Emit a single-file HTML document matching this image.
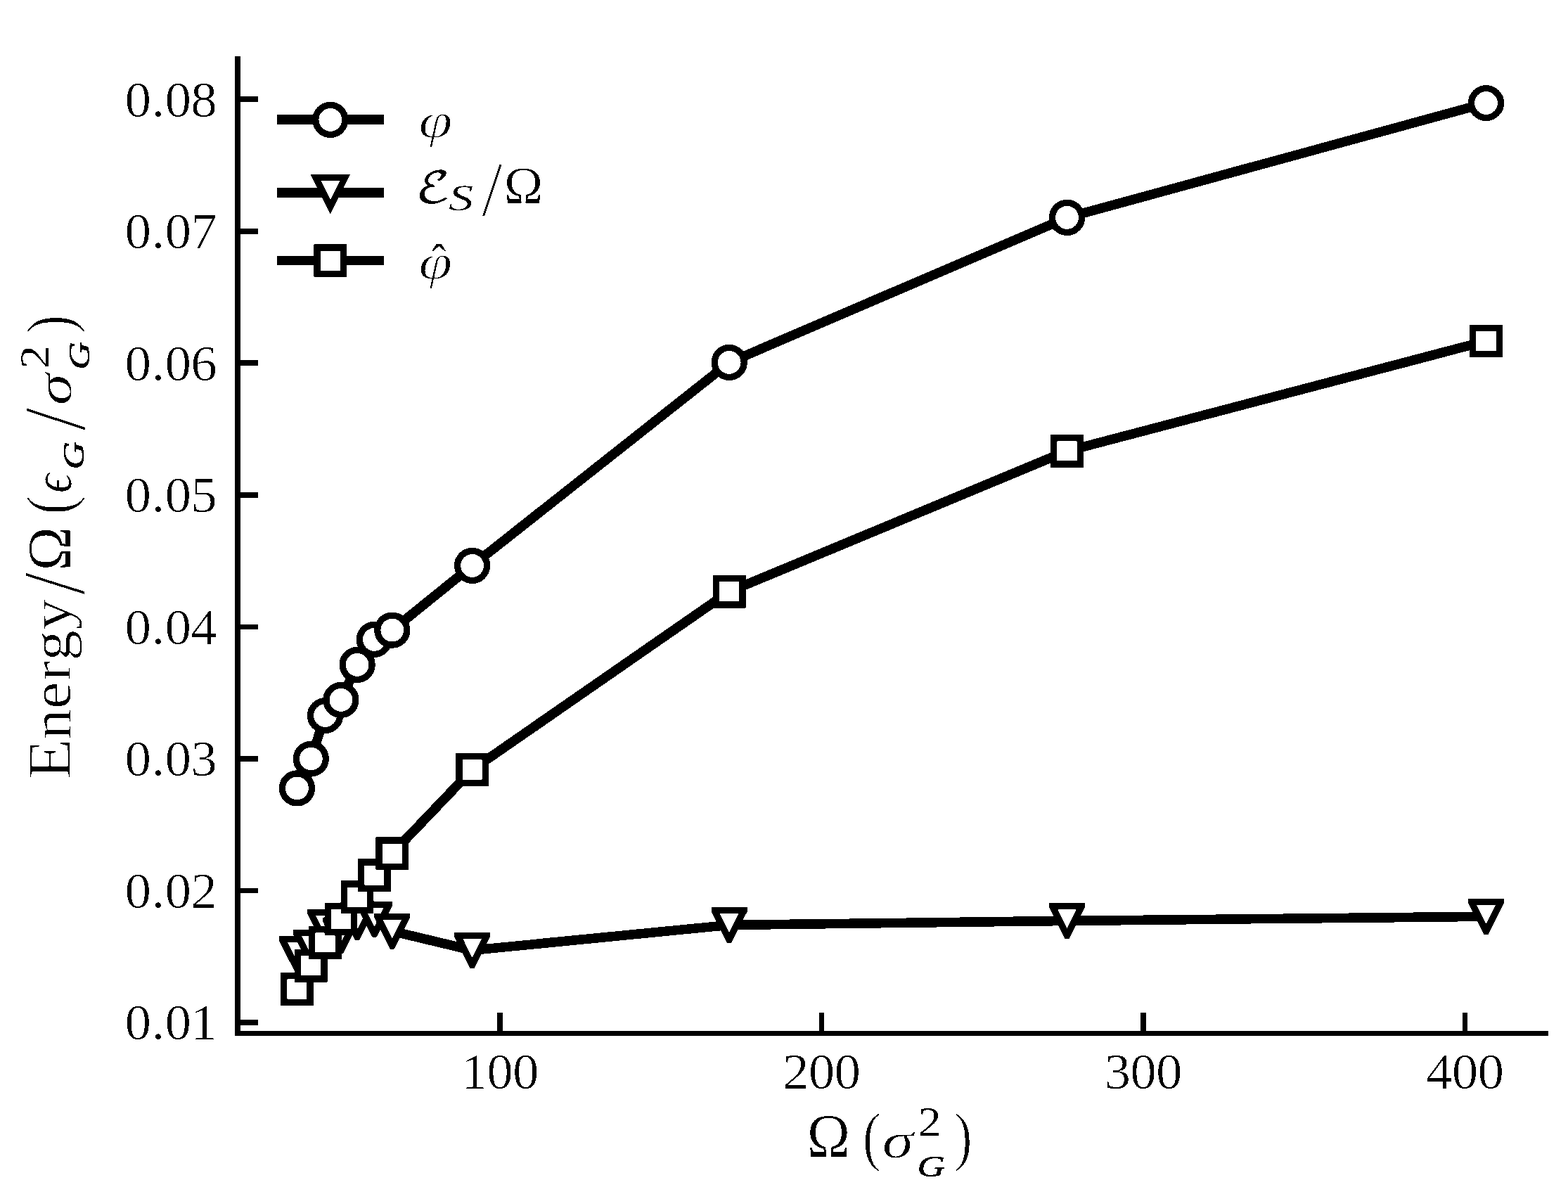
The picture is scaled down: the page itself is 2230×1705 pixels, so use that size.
<!DOCTYPE html>
<html lang="en"><head><meta charset="utf-8"><title>Figure</title>
<style>html,body{margin:0;padding:0;background:#fff}body{width:2230px;height:1705px;overflow:hidden}svg{display:block}text{fill:#000;stroke-linejoin:round}</style>
</head><body>
<svg width="2230" height="1705" viewBox="0 0 2230 1705">
<defs><filter id="bw" x="0" y="0" width="2230" height="1705" filterUnits="userSpaceOnUse" color-interpolation-filters="sRGB"><feComponentTransfer><feFuncR type="discrete" tableValues="0 1"/><feFuncG type="discrete" tableValues="0 1"/><feFuncB type="discrete" tableValues="0 1"/></feComponentTransfer></filter></defs>
<g id="figure" filter="url(#bw)">
<rect width="2230" height="1705" fill="#fff"/>
<g id="axes" fill="#000">
<rect x="334" y="80" width="8" height="1393"/>
<rect x="334" y="1466.1" width="1868" height="6.9"/>
<rect x="338" y="1450.2" width="29" height="7.6"/>
<rect x="338" y="1262.66" width="29" height="7.6"/>
<rect x="338" y="1075.12" width="29" height="7.6"/>
<rect x="338" y="887.58" width="29" height="7.6"/>
<rect x="338" y="700.04" width="29" height="7.6"/>
<rect x="338" y="512.5" width="29" height="7.6"/>
<rect x="338" y="324.96" width="29" height="7.6"/>
<rect x="338" y="137.42" width="29" height="7.6"/>
<rect x="707.25" y="1440" width="7.6" height="30"/>
<rect x="1164.77" y="1440" width="7.6" height="30"/>
<rect x="1622.29" y="1440" width="7.6" height="30"/>
<rect x="2079.81" y="1440" width="7.6" height="30"/>
</g>
<g id="series" fill="none" stroke="#000" stroke-width="13.6" stroke-linejoin="round">
<polyline points="422.4,1120.9 442.3,1079 462.5,1017.5 484.9,995.3 508.1,945.3 532.4,909.3 557.8,896.1 671.6,804.3 1037.2,515.4 1517.5,309.4 2113.5,146.5"/>
<g fill="#fff" stroke-width="9.25"><circle cx="422.4" cy="1120.9" r="21"/><circle cx="442.3" cy="1079" r="21"/><circle cx="462.5" cy="1017.5" r="21"/><circle cx="484.9" cy="995.3" r="21"/><circle cx="508.1" cy="945.3" r="21"/><circle cx="532.4" cy="909.3" r="21"/><circle cx="557.8" cy="896.1" r="21"/><circle cx="671.6" cy="804.3" r="21"/><circle cx="1037.2" cy="515.4" r="21"/><circle cx="1517.5" cy="309.4" r="21"/><circle cx="2113.5" cy="146.5" r="21"/></g>
<polyline points="422.4,1356.5 442.3,1347.3 462.5,1318.3 484.9,1330.1 508.1,1311.1 532.4,1307.2 557.8,1324.1 671.6,1351.3 1037.2,1315.4 1517.5,1309.4 2113.5,1303.3"/>
<g stroke="none" fill="#000"><polygon points="397,1331.1 447.8,1331.1 447.8,1337.4 425.5,1381.9 419.3,1381.9 397,1337.4"/><polygon points="409.1,1340.3 435.7,1340.3 422.4,1367" fill="#fff"/><polygon points="416.9,1321.9 467.7,1321.9 467.7,1328.2 445.4,1372.7 439.2,1372.7 416.9,1328.2"/><polygon points="429,1331.1 455.6,1331.1 442.3,1357.8" fill="#fff"/><polygon points="437.1,1292.9 487.9,1292.9 487.9,1299.2 465.6,1343.7 459.4,1343.7 437.1,1299.2"/><polygon points="449.2,1302.1 475.8,1302.1 462.5,1328.8" fill="#fff"/><polygon points="459.5,1304.7 510.3,1304.7 510.3,1311 488,1355.5 481.8,1355.5 459.5,1311"/><polygon points="471.6,1313.9 498.2,1313.9 484.9,1340.6" fill="#fff"/><polygon points="482.7,1285.7 533.5,1285.7 533.5,1292 511.2,1336.5 505,1336.5 482.7,1292"/><polygon points="494.8,1294.9 521.4,1294.9 508.1,1321.6" fill="#fff"/><polygon points="507,1281.8 557.8,1281.8 557.8,1288.1 535.5,1332.6 529.3,1332.6 507,1288.1"/><polygon points="519.1,1291 545.7,1291 532.4,1317.7" fill="#fff"/><polygon points="532.4,1298.7 583.2,1298.7 583.2,1305 560.9,1349.5 554.7,1349.5 532.4,1305"/><polygon points="544.5,1307.9 571.1,1307.9 557.8,1334.6" fill="#fff"/><polygon points="646.2,1325.9 697,1325.9 697,1332.2 674.7,1376.7 668.5,1376.7 646.2,1332.2"/><polygon points="658.3,1335.1 684.9,1335.1 671.6,1361.8" fill="#fff"/><polygon points="1011.8,1290 1062.6,1290 1062.6,1296.3 1040.3,1340.8 1034.1,1340.8 1011.8,1296.3"/><polygon points="1023.9,1299.2 1050.5,1299.2 1037.2,1325.9" fill="#fff"/><polygon points="1492.1,1284 1542.9,1284 1542.9,1290.3 1520.6,1334.8 1514.4,1334.8 1492.1,1290.3"/><polygon points="1504.2,1293.2 1530.8,1293.2 1517.5,1319.9" fill="#fff"/><polygon points="2088.1,1277.9 2138.9,1277.9 2138.9,1284.2 2116.6,1328.7 2110.4,1328.7 2088.1,1284.2"/><polygon points="2100.2,1287.1 2126.8,1287.1 2113.5,1313.8" fill="#fff"/></g>
<polyline points="422.4,1406.5 442.3,1373.3 462.5,1340.4 484.9,1306.9 508.1,1275.6 532.4,1244.6 557.8,1213.6 671.6,1094.5 1037.2,841.3 1517.5,641.4 2113.5,485"/>
<g fill="#fff" stroke-width="9.25" stroke-linejoin="miter"><rect x="403.7" y="1387.8" width="37.4" height="37.4"/><rect x="423.6" y="1354.6" width="37.4" height="37.4"/><rect x="443.8" y="1321.7" width="37.4" height="37.4"/><rect x="466.2" y="1288.2" width="37.4" height="37.4"/><rect x="489.4" y="1256.9" width="37.4" height="37.4"/><rect x="513.7" y="1225.9" width="37.4" height="37.4"/><rect x="539.1" y="1194.9" width="37.4" height="37.4"/><rect x="652.9" y="1075.8" width="37.4" height="37.4"/><rect x="1018.5" y="822.6" width="37.4" height="37.4"/><rect x="1498.8" y="622.7" width="37.4" height="37.4"/><rect x="2094.8" y="466.3" width="37.4" height="37.4"/></g>
</g>
<g id="legend" fill="none" stroke="#000" stroke-width="13.6">
<rect x="394" y="163.125" width="152.1" height="13.75" fill="#000" stroke="none"/>
<g fill="#fff" stroke-width="9.25"><circle cx="469.8" cy="170.3" r="21"/></g>
<rect x="394" y="267.125" width="152.1" height="13.75" fill="#000" stroke="none"/>
<polygon points="449,252.7 490.6,252.7 469.8,294.3" fill="#fff" stroke-width="9.25" stroke-linejoin="miter" stroke-miterlimit="10"/>
<rect x="394" y="363.625" width="152.1" height="13.75" fill="#000" stroke="none"/>
<g fill="#fff" stroke-width="9.25" stroke-linejoin="miter"><rect x="451.1" y="351.9" width="37.4" height="37.4"/></g>
</g>
<g id="labels">
<g id="yticks">
<text transform="translate(177.4 1478.4) scale(1.0400 1)" x="0 36.74 54.98 90.32" font-family='"Liberation Serif", serif' font-size="72.2" stroke="#fff" stroke-width="0.7">0.01</text>
<text transform="translate(177.4 1290.86) scale(1.0400 1)" x="0 36.74 54.98 90.32" font-family='"Liberation Serif", serif' font-size="72.2" stroke="#fff" stroke-width="0.7">0.02</text>
<text transform="translate(177.4 1103.32) scale(1.0400 1)" x="0 36.74 54.98 90.32" font-family='"Liberation Serif", serif' font-size="72.2" stroke="#fff" stroke-width="0.7">0.03</text>
<text transform="translate(177.4 915.78) scale(1.0400 1)" x="0 36.74 54.98 90.32" font-family='"Liberation Serif", serif' font-size="72.2" stroke="#fff" stroke-width="0.7">0.04</text>
<text transform="translate(177.4 728.24) scale(1.0400 1)" x="0 36.74 54.98 90.32" font-family='"Liberation Serif", serif' font-size="72.2" stroke="#fff" stroke-width="0.7">0.05</text>
<text transform="translate(177.4 540.7) scale(1.0400 1)" x="0 36.74 54.98 90.32" font-family='"Liberation Serif", serif' font-size="72.2" stroke="#fff" stroke-width="0.7">0.06</text>
<text transform="translate(177.4 353.16) scale(1.0400 1)" x="0 36.74 54.98 90.32" font-family='"Liberation Serif", serif' font-size="72.2" stroke="#fff" stroke-width="0.7">0.07</text>
<text transform="translate(177.4 165.62) scale(1.0400 1)" x="0 36.74 54.98 90.32" font-family='"Liberation Serif", serif' font-size="72.2" stroke="#fff" stroke-width="0.7">0.08</text>
</g>
<g id="xticks">
<text transform="translate(655.53 1547.6) scale(1.0400 1)" x="0 35.34 70.67" font-family='"Liberation Serif", serif' font-size="72.2" stroke="#fff" stroke-width="0.7">100</text>
<text transform="translate(1113.05 1547.6) scale(1.0400 1)" x="0 35.34 70.67" font-family='"Liberation Serif", serif' font-size="72.2" stroke="#fff" stroke-width="0.7">200</text>
<text transform="translate(1570.57 1547.6) scale(1.0400 1)" x="0 35.34 70.67" font-family='"Liberation Serif", serif' font-size="72.2" stroke="#fff" stroke-width="0.7">300</text>
<text transform="translate(2028.09 1547.6) scale(1.0400 1)" x="0 35.34 70.67" font-family='"Liberation Serif", serif' font-size="72.2" stroke="#fff" stroke-width="0.7">400</text>
</g>
<g id="legend-labels">
<text transform="translate(595.34 194.82) scale(1.2506 1)" font-family='"Liberation Serif", serif' font-size="69.78" font-style="italic" stroke="#fff" stroke-width="1.5">φ</text>
<text transform="translate(590.75 287.91) scale(1.2124 1)" font-family='"DejaVu Math TeX Gyre", "DejaVu Serif", serif' font-size="61.32">ℰ</text>
<text transform="translate(637.81 298.82) scale(1.3310 1)" font-family='"Liberation Serif", serif' font-size="53.38" font-style="italic" stroke="#fff" stroke-width="0.3">S</text>
<text transform="translate(684.83 307.38) scale(0.9731 1)" font-family='"Liberation Serif", serif' font-size="111.94" stroke="#fff" stroke-width="2">/</text>
<text transform="translate(716.72 289.15) scale(1.0203 1)" font-family='"Liberation Serif", serif' font-size="73.21" stroke="#fff" stroke-width="0.7">Ω</text>
<text transform="translate(613.13 401.93) scale(0.8240 1)" font-family='"Liberation Serif", serif' font-size="79.33" stroke="#fff" stroke-width="1">ˆ</text>
<text transform="translate(595.35 396.01) scale(1.2610 1)" font-family='"Liberation Serif", serif' font-size="68.91" font-style="italic" stroke="#fff" stroke-width="1.5">φ</text>
</g>
<g id="xlabel">
<text transform="translate(1147.41 1645.25) scale(0.9342 1)" font-family='"Liberation Serif", serif' font-size="89.06" stroke="#fff" stroke-width="0.7">Ω</text>
<text transform="translate(1226.74 1646.79) scale(0.8429 1)" font-family='"Liberation Serif", serif' font-size="93" stroke="#fff" stroke-width="1.5">(</text>
<text transform="translate(1254.69 1645.68) scale(1.2564 1)" font-family='"Liberation Serif", serif' font-size="71.85" font-style="italic" stroke="#fff" stroke-width="0.8">σ</text>
<text transform="translate(1305.82 1615) scale(1.1221 1)" font-family='"Liberation Serif", serif' font-size="58.87" stroke="#fff" stroke-width="0.2">2</text>
<text transform="translate(1304.43 1672.93) scale(1.2992 1)" font-family='"Liberation Serif", serif' font-size="41.93" font-style="italic" stroke="#000" stroke-width="0.5">G</text>
<text transform="translate(1356.74 1646.79) scale(0.8386 1)" font-family='"Liberation Serif", serif' font-size="93" stroke="#fff" stroke-width="1.5">)</text>
</g>
<g id="ylabel" transform="rotate(-90)">
<text transform="translate(-1108.65 100) scale(1.0800 1)" x="0 52.73 93.07 129.73 156.29 197.27" font-family='"Liberation Serif", serif' font-size="81" stroke="#fff" stroke-width="1"><tspan font-size="88.5">E</tspan>nergy</text>
<text transform="translate(-845.92 120.34) scale(0.9201 1)" font-family='"Liberation Serif", serif' font-size="126.27" stroke="#fff" stroke-width="2">/</text>
<text transform="translate(-811.78 100.15) scale(0.9584 1)" font-family='"Liberation Serif", serif' font-size="88.3" stroke="#fff" stroke-width="0.7">Ω</text>
<text transform="translate(-731.77 102.04) scale(0.8631 1)" font-family='"Liberation Serif", serif' font-size="93.22" stroke="#fff" stroke-width="1.5">(</text>
<text transform="translate(-701.1 100.61) scale(0.8602 1)" font-family='"Liberation Serif", serif' font-size="78.96" font-style="italic" stroke="#fff" stroke-width="0.6">ϵ</text>
<text transform="translate(-667.81 119.42) scale(1.2956 1)" font-family='"Liberation Serif", serif' font-size="42.53" font-style="italic" stroke="#000" stroke-width="0.5">G</text>
<text transform="translate(-612.96 120.73) scale(0.9636 1)" font-family='"Liberation Serif", serif' font-size="126.87" stroke="#fff" stroke-width="2">/</text>
<text transform="translate(-576.25 100.78) scale(1.2668 1)" font-family='"Liberation Serif", serif' font-size="72.23" font-style="italic" stroke="#fff" stroke-width="0.8">σ</text>
<text transform="translate(-524.31 69.3) scale(1.1078 1)" font-family='"Liberation Serif", serif' font-size="60.08" stroke="#fff" stroke-width="0.2">2</text>
<text transform="translate(-525.69 127.23) scale(1.2974 1)" font-family='"Liberation Serif", serif' font-size="42.23" font-style="italic" stroke="#000" stroke-width="0.5">G</text>
<text transform="translate(-474.2 101.96) scale(0.8464 1)" font-family='"Liberation Serif", serif' font-size="93.11" stroke="#fff" stroke-width="1.5">)</text>
</g>
</g>
</g>
</svg>
</body></html>
